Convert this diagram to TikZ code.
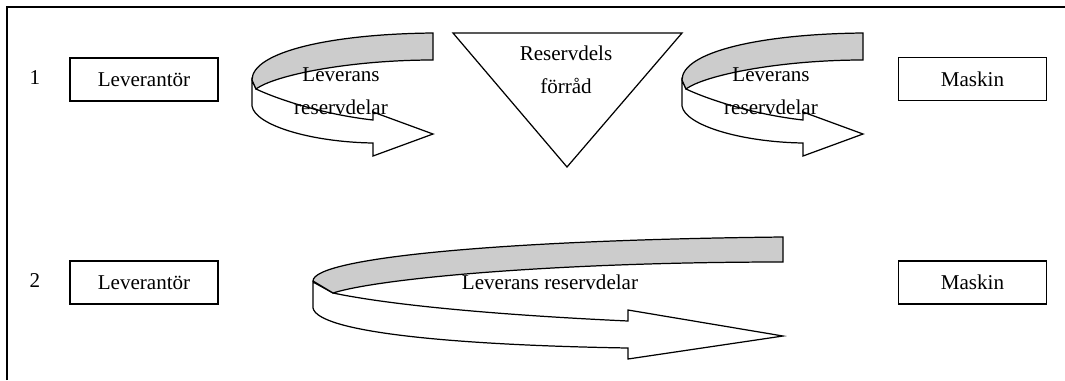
\documentclass[tikz,border=0pt]{standalone}
\usepackage{fontspec}
\setmainfont{Liberation Serif}

\begin{document}
\begin{tikzpicture}[x=0.02cm,y=-0.02cm,
    box/.style={draw,line width=0.8pt,minimum width=2.96cm,minimum height=0.86cm,inner sep=0pt,font=\fontsize{12}{14}\selectfont},
    txt/.style={align=center,inner sep=0pt,font=\fontsize{12}{18.7}\selectfont},
    band/.style={draw,line width=0.7pt,line join=miter}]
    \useasboundingbox (0,0) rectangle (1065,380);
    % frame round the figure
    \draw[line width=1pt] (7,380) -- (7,7) -- (1065,7);

    % row 1: via the store
    \node[txt] (nr1) at (35,78) {1};
    \node[box] (lev1) at (144,79.5) {Leverantör};
    \node[box] (mask1) at (972.5,79) {Maskin};
    \draw[line width=0.7pt] (453,33) -- (682,33) -- (567,167) -- cycle;
    \node[txt] (store) at (566,70) {Reservdels\\förråd};
    % the two curved delivery arrows
    \foreach \dx in {0,430} {
        \begin{scope}[shift={(\dx,0)}]
            \draw[band,fill=white] (252,80) -- (252,106) .. controls (255,125) and (310,142) .. (373,143)
                -- (373,156) -- (433,134) -- (373,112) -- (373,120)
                .. controls (320,114) and (275,98) .. (256,89) -- cycle;
            \draw[band,fill=black!20] (433,33) .. controls (330,34) and (252,52) .. (252,80)
                -- (256,89) .. controls (275,75) and (350,60) .. (433,60) -- cycle;
        \end{scope}
    }
    \node[txt] (lev1a) at (341,91) {Leverans\\reservdelar};
    \node[txt] (lev1b) at (771,91) {Leverans\\reservdelar};

    % row 2: straight to the machine
    \node[txt] (nr2) at (35,281) {2};
    \node[box] (lev2) at (144,282.5) {Leverantör};
    \node[box] (mask2) at (972.5,282.5) {Maskin};
    \draw[band,fill=white] (313,282) -- (313,308) .. controls (318,332) and (450,345) .. (628,348)
        -- (628,359) -- (783,336) -- (628,310) -- (628,321)
        .. controls (520,316) and (400,307) .. (333,293) -- cycle;
    \draw[band,fill=black!20] (783,237) .. controls (500,240) and (313,258) .. (313,281)
        -- (333,293) .. controls (380,278) and (560,262) .. (783,262) -- cycle;
    \node[txt] (lev2a) at (550,282) {Leverans reservdelar};
\end{tikzpicture}
\end{document}
